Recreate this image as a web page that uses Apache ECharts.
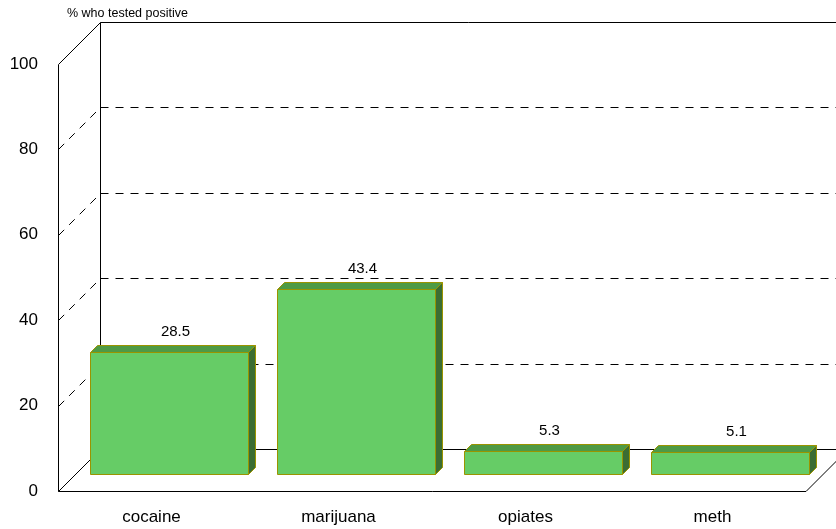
<!DOCTYPE html>
<html>
<head>
<meta charset="utf-8">
<script src="https://cdn.jsdelivr.net/npm/echarts@6/dist/echarts.min.js"></script>
<style>html,body{margin:0;padding:0;background:#fff;}#c{width:836px;height:529px;}</style>
</head>
<body>
<div id="c"></div>
<script>
var categories = ['cocaine', 'marijuana', 'opiates', 'meth'];
var values = [28.5, 43.4, 5.3, 5.1];
var yTicks = [0, 20, 40, 60, 80, 100];
var axisTitle = '% who tested positive';

var chart = echarts.init(document.getElementById('c'), null, {renderer: 'canvas'});
var DEPTH = 42;      // wall depth in px
var BAR_Z = 17;      // bar placement depth
var BAR_D = 7;       // bar thickness
var FONT = 'Liberation Sans, Arial, sans-serif';

function frameItem(params, api) {
  var v = api.value(0);
  var cs = params.coordSys;
  var p = api.coord([0, v]);
  var y = Math.round(p[1]) + 0.5;
  var xl = cs.x + 0.5, xr = cs.x + cs.width;
  var solid = (v === 0 || v === 100);
  var st = {stroke: '#000', lineWidth: 1, fill: null};
  if (!solid) st.lineDash = [8, 7];
  var children = [];
  children.push({type: 'line', shape: {x1: xl + DEPTH, y1: y - DEPTH, x2: xr + DEPTH, y2: y - DEPTH}, style: st});
  children.push({type: 'line', shape: {x1: xl, y1: y, x2: xl + DEPTH, y2: y - DEPTH}, style: st});
  if (v === 0) {
    var top = Math.round(api.coord([0, 100])[1]) + 0.5;
    var s = {stroke: '#000', lineWidth: 1, fill: null};
    children.push({type: 'line', shape: {x1: xl, y1: y, x2: xr, y2: y}, style: s});
    children.push({type: 'line', shape: {x1: xr, y1: y, x2: xr + DEPTH, y2: y - DEPTH}, style: s});
    children.push({type: 'line', shape: {x1: xl, y1: y, x2: xl, y2: top}, style: s});
    children.push({type: 'line', shape: {x1: xl + DEPTH, y1: y - DEPTH, x2: xl + DEPTH, y2: top - DEPTH}, style: s});
  }
  return {type: 'group', children: children};
}

function barItem(params, api) {
  var i = api.value(0), v = api.value(1);
  var base = api.coord([i, 0]);
  var topP = api.coord([i, v]);
  var band = api.size([1, 0])[0];
  var bw = Math.round(band * 0.845);
  var x0 = Math.round(base[0] - bw / 2 + BAR_Z) + 0.5;
  var y0 = Math.round(base[1] - BAR_Z) + 0.5;
  var y1 = Math.round(topP[1] - BAR_Z) + 0.5;
  var d = BAR_D;
  var border = '#9a9400';
  return {
    type: 'group',
    children: [
      {type: 'polygon', shape: {points: [[x0, y1], [x0 + d, y1 - d], [x0 + bw + d, y1 - d], [x0 + bw, y1]]},
        style: {fill: '#4e9a45', stroke: border, lineWidth: 1}},
      {type: 'polygon', shape: {points: [[x0 + bw, y1], [x0 + bw + d, y1 - d], [x0 + bw + d, y0 - d], [x0 + bw, y0]]},
        style: {fill: '#3b6d33', stroke: border, lineWidth: 1}},
      {type: 'rect', shape: {x: x0, y: y1, width: bw, height: y0 - y1},
        style: {fill: '#66cc66', stroke: border, lineWidth: 1}},
      {type: 'text', x: x0 + bw / 2 + 6, y: y1 - 21,
        style: {text: String(v), fill: '#000', font: '15px ' + FONT, textAlign: 'center', textVerticalAlign: 'middle'}}
    ]
  };
}

chart.setOption({
  animation: false,
  backgroundColor: '#fff',
  title: {text: axisTitle, left: 67, top: 7, padding: 0, textStyle: {fontSize: 12.5, fontWeight: 'normal', color: '#000', fontFamily: FONT}},
  grid: {left: 58, right: 30, top: 64, bottom: 38, containLabel: false},
  xAxis: {
    type: 'category', data: categories,
    axisLine: {show: false}, axisTick: {show: false}, splitLine: {show: false},
    axisLabel: {margin: 18, fontSize: 17, color: '#000', fontFamily: FONT}
  },
  yAxis: {
    type: 'value', min: 0, max: 100, interval: 20,
    axisLine: {show: false}, axisTick: {show: false}, splitLine: {show: false},
    axisLabel: {margin: 20, fontSize: 17, color: '#000', fontFamily: FONT}
  },
  series: [
    {type: 'custom', renderItem: frameItem, data: yTicks.map(function (t) { return [t]; }), encode: {y: 0}, z: 1, silent: true, clip: false},
    {type: 'custom', renderItem: barItem, data: values.map(function (v, i) { return [i, v]; }), encode: {x: 0, y: 1}, z: 2, clip: false}
  ]
});
</script>
</body>
</html>
